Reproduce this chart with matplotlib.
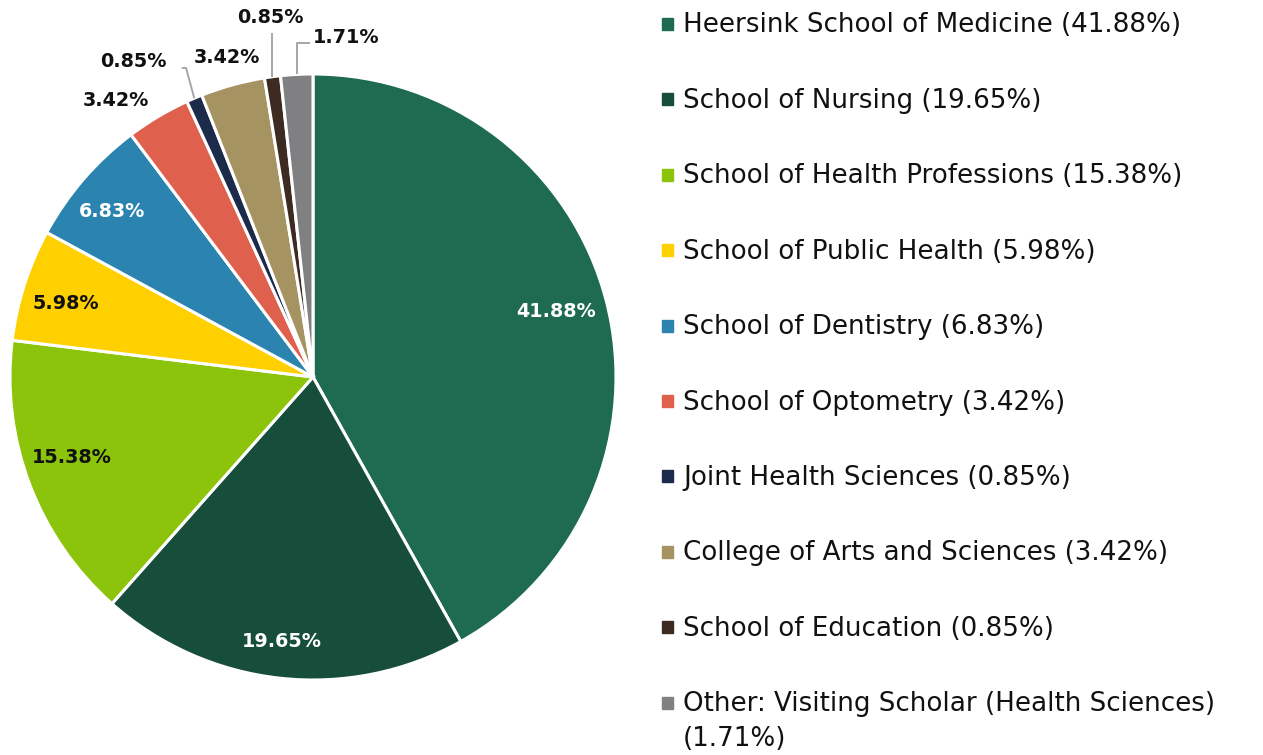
import numpy as np
import matplotlib.pyplot as plt

plt.rcParams['font.family'] = ['DejaVu Sans']

# Dados
escolas = ['Heersink School of Medicine', 'School of Nursing', 'School of Health Professions',
           'School of Public Health', 'School of Dentistry', 'School of Optometry',
           'Joint Health Sciences', 'College of Arts and Sciences', 'School of Education',
           'Other: Visiting Scholar (Health Sciences)']
percentuais = [41.88, 19.65, 15.38, 5.98, 6.83, 3.42, 0.85, 3.42, 0.85, 1.71]
cores = ['#1f6b52', '#174d3b', '#8bc40a', '#ffd000', '#2b83b0', '#e0604e',
         '#1c2b4a', '#a59462', '#3d2b22', '#808083']
cor_rotulo = ['white', 'white', '#111111', '#111111', 'white', '#111111',
              '#111111', '#111111', '#111111', '#111111']

W, H = 1263, 755
fig = plt.figure(figsize=(W / 100, H / 100), dpi=100)

# pizza: centro (313, 377), raio 303 px
cx, cy, r = 313, 377, 303
ax = fig.add_axes([(cx - r) / W, (H - cy - r) / H, 2 * r / W, 2 * r / H])
wedges, _ = ax.pie(percentuais, colors=cores, startangle=90, counterclock=False,
                   wedgeprops=dict(edgecolor='white', linewidth=2.2))
ax.set_xlim(-1, 1)
ax.set_ylim(-1, 1)
ax.set_aspect('equal')
ax.axis('off')

# angulo medio de cada fatia
acum = np.cumsum(percentuais) - np.array(percentuais) / 2
angulos = np.deg2rad(90 - acum / sum(percentuais) * 360)

fonte_pct = dict(fontsize=13.8, fontweight='bold', va='center')

# rotulos internos (fatias grandes): raio e ajuste de angulo (graus)
raios = [0.83, 0.88, 0.84, 0.85, 0.86]
desvio = [0.6, -0.5, -2.4, 1.2, 1.3]
for i in range(5):
    a = angulos[i] + np.deg2rad(desvio[i])
    ax.text(raios[i] * np.cos(a), raios[i] * np.sin(a), f'{percentuais[i]:.2f}%',
            color=cor_rotulo[i], ha='center', **fonte_pct)

# rotulos externos
pos_ext = {5: (-0.650, 0.914, 'center'), 6: (-0.482, 1.040, 'right'),
           7: (-0.284, 1.053, 'center'), 8: (-0.142, 1.188, 'center'),
           9: (0.0, 1.119, 'left')}
for i, (tx, ty, alinh) in pos_ext.items():
    ax.text(tx, ty, f'{percentuais[i]:.2f}%', color=cor_rotulo[i], clip_on=False,
            ha=alinh, **fonte_pct)

# linhas de chamada
cinza = '#a6a6a6'
def chamada(i, pontos):
    xs = [np.cos(angulos[i])] + [p[0] for p in pontos]
    ys = [np.sin(angulos[i])] + [p[1] for p in pontos]
    ax.plot(xs, ys, color=cinza, lw=1.4, clip_on=False, solid_capstyle='butt')

chamada(6, [(-0.419, 1.020), (-0.433, 1.020)])
chamada(8, [(np.cos(angulos[8]), 1.135)])
chamada(9, [(np.cos(angulos[9]), 1.102), (-0.01, 1.102)])

# legenda manual
y0, passo = 24, 75.4
for i, (nome, pct) in enumerate(zip(escolas, percentuais)):
    yc = y0 + i * passo
    fig.patches.append(plt.Rectangle((662 / W, 1 - (yc + 6) / H), 11 / W, 12 / H,
                                     transform=fig.transFigure, color=cores[i]))
    linhas = [f'{nome} ({pct:.2f}%)']
    if i == len(escolas) - 1:
        linhas = [nome, f'({pct:.2f}%)']
    for k, linha in enumerate(linhas):
        fig.text(683 / W, 1 - (yc + 8.5 + k * 35) / H, linha, fontsize=18.8, color='#111111',
                 ha='left', va='baseline')

fig.savefig('out.png', dpi=100)
